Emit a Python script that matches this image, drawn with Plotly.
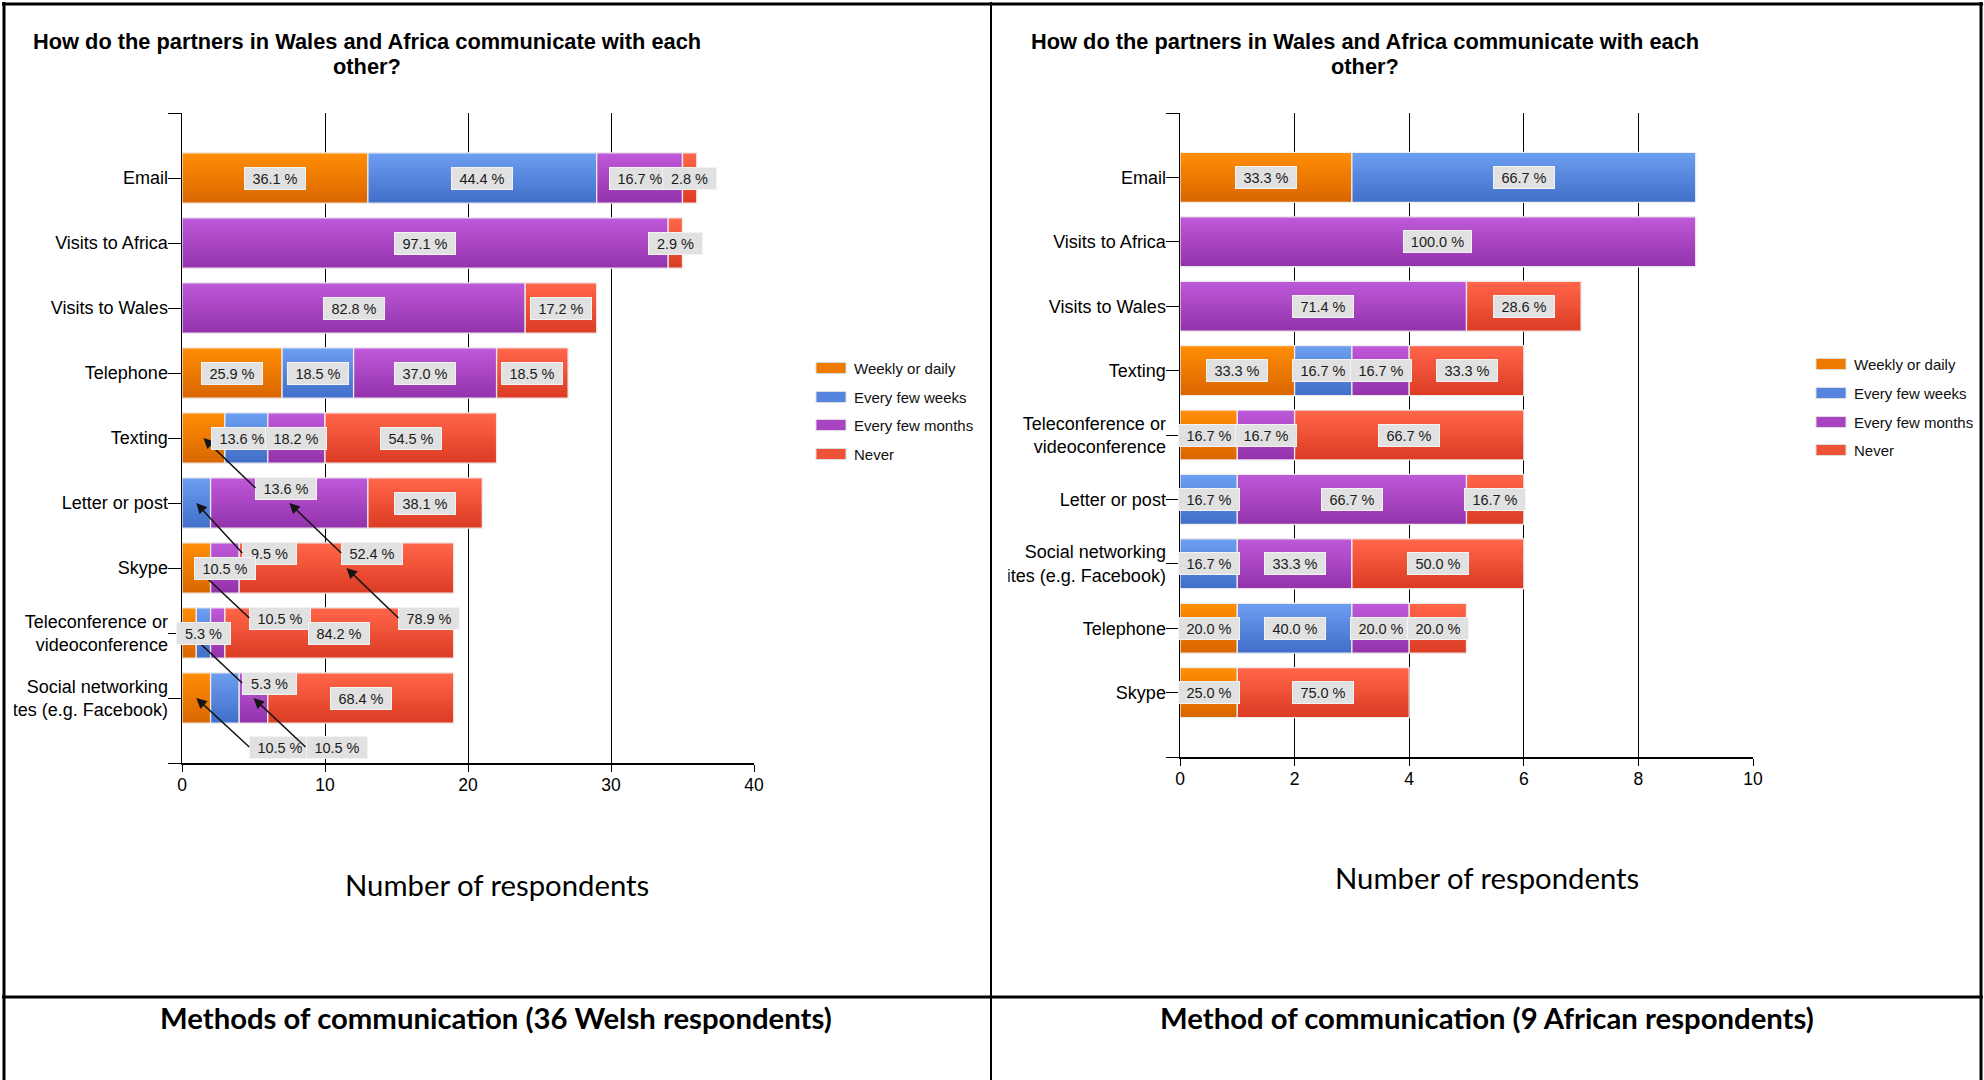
import plotly.graph_objects as go

# ---------------------------------------------------------------- data
SERIES = ["Weekly or daily", "Every few weeks", "Every few months", "Never"]

WALES_CATEGORIES = [
    "Email", "Visits to Africa", "Visits to Wales", "Telephone", "Texting",
    "Letter or post", "Skype", "Teleconference or<br>videoconference",
    "Social networking<br>sites (e.g. Facebook)",
]
WALES_WEEKLY = [13, 0, 0, 7, 3, 0, 2, 1, 2]
WALES_WEEKS = [16, 0, 0, 5, 3, 2, 0, 1, 2]
WALES_MONTHS = [6, 34, 24, 10, 4, 11, 2, 1, 2]
WALES_NEVER = [1, 1, 5, 5, 12, 8, 15, 16, 13]

AFRICA_CATEGORIES = [
    "Email", "Visits to Africa", "Visits to Wales", "Texting",
    "Teleconference or<br>videoconference", "Letter or post",
    "Social networking<br>sites (e.g. Facebook)", "Telephone", "Skype",
]
AFRICA_WEEKLY = [3, 0, 0, 2, 1, 0, 0, 1, 1]
AFRICA_WEEKS = [6, 0, 0, 1, 0, 1, 1, 2, 0]
AFRICA_MONTHS = [0, 9, 5, 1, 1, 4, 2, 1, 0]
AFRICA_NEVER = [0, 0, 2, 2, 4, 1, 3, 1, 3]

WALES_TICKS = [0, 10, 20, 30, 40]
AFRICA_TICKS = [0, 2, 4, 6, 8, 10]

CHART_TITLE_LINES = ["How do the partners in Wales and Africa communicate with each", "other?"]
AXIS_TITLE = "Number of respondents"
WALES_CAPTION = "Methods of communication (36 Welsh respondents)"
AFRICA_CAPTION = "Method of communication (9 African respondents)"

# ---------------------------------------------------------------- styling
W, H = 1984, 1080
FONT = "Arial, 'Liberation Sans', sans-serif"
DOC_FONT = "Lato, 'Open Sans', sans-serif"
TOP_COLORS = ["#FF8D05", "#6B9DF0", "#BD58D8", "#FF6549"]
BOTTOM_COLORS = ["#DA6700", "#4270CA", "#9533AD", "#DC3D24"]
SWATCH_COLORS = ["#EE7A02", "#5585DE", "#A843C2", "#EE5236"]
BAND_COUNT = 14
BAR_WIDTH = 0.775


def px(x):
    return x / W


def py(y):
    return 1 - y / H


def mix(c1, c2, t):
    a = [int(c1[i:i + 2], 16) for i in (1, 3, 5)]
    b = [int(c2[i:i + 2], 16) for i in (1, 3, 5)]
    return "rgb(%d,%d,%d)" % tuple(round(a[k] + (b[k] - a[k]) * t) for k in range(3))


def pct_text(v, total):
    return "%.1f %%" % (100.0 * v / total)


PANELS = [
    dict(cats=WALES_CATEGORIES,
         series=[WALES_WEEKLY, WALES_WEEKS, WALES_MONTHS, WALES_NEVER],
         ticks=WALES_TICKS, caption=WALES_CAPTION,
         box=(182, 754, 113, 763), title_x=367, legend_x=816,
         legend_y=[368, 397, 425, 454], axis_title=(497, 884), caption_pos=(496, 1017),
         mask=(0, 13.8), xa="x", ya="y"),
    dict(cats=AFRICA_CATEGORIES,
         series=[AFRICA_WEEKLY, AFRICA_WEEKS, AFRICA_MONTHS, AFRICA_NEVER],
         ticks=AFRICA_TICKS, caption=AFRICA_CAPTION,
         box=(1180, 1753, 113, 757), title_x=1365, legend_x=1816,
         legend_y=[364, 393, 422, 450], axis_title=(1487, 877), caption_pos=(1487, 1017),
         mask=(993, 1008.3), xa="x2", ya="y2"),
]

# value labels moved below their segment with a pointer: (row, series) -> pixel offset
WALES_CALLOUTS = {
    (4, 0): (52, 50), (5, 1): (46, 50), (5, 2): (52, 50), (6, 0): (53, 50),
    (6, 3): (52, 50), (7, 0): (53, 50), (8, 0): (53, 49), (8, 2): (52, 49),
}
WALES_HIDDEN = {(7, 2), (8, 1)}
WALES_SHIFT = {(4, 1): -4}
LABEL_RULES = [
    (WALES_CALLOUTS, WALES_HIDDEN, WALES_SHIFT),
    ({}, set(), {}),
]

fig = go.Figure()
annotations = []
shapes = []
layout_axes = {}

for p_i, panel in enumerate(PANELS):
    x0, x1, y0, y1 = panel["box"]
    xa, ya = panel["xa"], panel["ya"]
    xname = "xaxis" if xa == "x" else "xaxis2"
    yname = "yaxis" if ya == "y" else "yaxis2"
    ncat = len(panel["cats"])
    rows = list(range(ncat))
    totals = [sum(s[i] for s in panel["series"]) for i in rows]
    starts = [[0] * ncat for _ in SERIES]
    for i in rows:
        acc = 0
        for s in range(len(SERIES)):
            starts[s][i] = acc
            acc += panel["series"][s][i]

    # shaded bar segments, drawn as thin horizontal bands
    step = BAR_WIDTH / BAND_COUNT
    for s, values in enumerate(panel["series"]):
        idx = [i for i in rows if values[i] > 0]
        for k in range(BAND_COUNT):
            t = k / (BAND_COUNT - 1)
            fig.add_trace(go.Bar(
                orientation="h", y=idx, x=[values[i] for i in idx],
                base=[starts[s][i] for i in idx],
                width=step * (1.25 if k < BAND_COUNT - 1 else 1.0),
                offset=-BAR_WIDTH / 2 + k * step,
                marker=dict(color=mix(TOP_COLORS[s], BOTTOM_COLORS[s], t), line=dict(width=0)),
                xaxis=xa, yaxis=ya, showlegend=False, hoverinfo="skip",
            ))
        fig.add_trace(go.Bar(
            orientation="h", y=idx, x=[values[i] for i in idx],
            base=[starts[s][i] for i in idx], width=BAR_WIDTH, offset=-BAR_WIDTH / 2,
            marker=dict(color="rgba(0,0,0,0)", line=dict(color="rgba(238,238,238,0.95)", width=1.3)),
            xaxis=xa, yaxis=ya, showlegend=False, hoverinfo="skip", name=SERIES[s],
        ))

    # value labels
    callouts, hidden, shifts = LABEL_RULES[p_i]
    inline, pointed = [], []
    for s, values in enumerate(panel["series"]):
        for i in rows:
            v = values[i]
            if v <= 0 or (i, s) in hidden:
                continue
            text = pct_text(v, totals[i])
            common = dict(
                text=text, xref=xa, yref=ya, x=starts[s][i] + v / 2, y=i,
                font=dict(family=FONT, size=14.5, color="#1b1b1b"),
                bgcolor="#E1E1E1", bordercolor="#F3F3F3", borderwidth=1, borderpad=0,
                width=7 * len(text) + 18, height=21,
            )
            if (i, s) in callouts:
                dx, dy = callouts[(i, s)]
                pointed.append(dict(common, showarrow=True, ax=dx, ay=dy, xanchor="left",
                                    arrowhead=2, arrowsize=1.4, arrowwidth=1.5,
                                    arrowcolor="#151515", standoff=0))
            else:
                inline.append(dict(common, showarrow=False, xshift=shifts.get((i, s), 0)))
    annotations.extend(pointed + inline)

    layout_axes[xname] = dict(
        domain=[px(x0), px(x1)], range=[0, panel["ticks"][-1]], tickvals=panel["ticks"],
        showgrid=True, gridcolor="#000000", gridwidth=1, zeroline=False,
        showline=True, linecolor="#000000", linewidth=1.5, ticks="outside", ticklen=7,
        tickcolor="#000000", tickwidth=1, tickfont=dict(family=FONT, size=17.5, color="#000"),
        ticklabelstandoff=-2, anchor=ya, automargin=False, fixedrange=True,
    )
    layout_axes[yname] = dict(
        domain=[py(y1), py(y0)], range=[ncat, -1],
        tickvals=[-1] + rows + [ncat], ticktext=[""] + panel["cats"] + [""],
        showgrid=False, zeroline=False, showline=True, linecolor="#000000", linewidth=1.5,
        ticks="outside", ticklen=13, tickcolor="#000000", tickwidth=1,
        tickfont=dict(family=FONT, size=18, color="#000"),
        ticklabelstandoff=-4, anchor=xa, automargin=False, fixedrange=True,
    )

    # chart heading, one annotation per line
    for line_text, line_y in zip(CHART_TITLE_LINES, (42, 67)):
        annotations.append(dict(
            text="<b>%s</b>" % line_text, xref="paper", yref="paper",
            x=px(panel["title_x"]), y=py(line_y), xanchor="center", yanchor="middle",
            showarrow=False, font=dict(family=FONT, size=21.8, color="#000"),
        ))

    # legend
    for s, name in enumerate(SERIES):
        ly = panel["legend_y"][s]
        lx = panel["legend_x"]
        shapes.append(dict(type="rect", xref="paper", yref="paper",
                           x0=px(lx), x1=px(lx + 30), y0=py(ly + 5.5), y1=py(ly - 5.5),
                           fillcolor=SWATCH_COLORS[s], line=dict(color="#DDDDDD", width=1)))
        annotations.append(dict(
            text=name, xref="paper", yref="paper", x=px(lx + 36), y=py(ly),
            xanchor="left", yanchor="middle", showarrow=False,
            font=dict(family=FONT, size=15, color="#101010"),
        ))

    # axis title and caption
    ax_x, ax_y = panel["axis_title"]
    annotations.append(dict(
        text=AXIS_TITLE, xref="paper", yref="paper", x=px(ax_x), y=py(ax_y),
        xanchor="center", yanchor="middle", showarrow=False,
        font=dict(family=DOC_FONT, size=29.3, color="#000"),
    ))
    cx, cy = panel["caption_pos"]
    annotations.append(dict(
        text="<b>%s</b>" % panel["caption"], xref="paper", yref="paper", x=px(cx), y=py(cy),
        xanchor="center", yanchor="middle", showarrow=False,
        font=dict(family=DOC_FONT, size=29.3, color="#000"),
    ))

    # the left edge of the chart picture trims the long social-networking label
    slot = (y1 - y0) / (ncat + 1)
    social_row = next(i for i, c in enumerate(panel["cats"]) if c.startswith("Social"))
    row_y = y0 + (social_row + 1) * slot
    m0, m1 = panel["mask"]
    shapes.append(dict(type="rect", xref="paper", yref="paper", layer="above",
                       x0=px(m0), x1=px(m1), y0=py(row_y + 24), y1=py(row_y - 2),
                       fillcolor="#FFFFFF", line=dict(width=0)))

# table rules
for (a, b, c, d, w) in [
    (2, 4, 1983, 4, 3),        # top
    (4, 2, 4, 1080, 3),        # left
    (991, 2, 991, 1080, 2),    # middle
    (1981, 2, 1981, 1080, 3),  # right
    (2, 997, 1983, 997, 3),    # row divider
]:
    shapes.append(dict(type="line", xref="paper", yref="paper", layer="above",
                       x0=px(a), y0=py(b), x1=px(c), y1=py(d),
                       line=dict(color="#000000", width=w)))

fig.update_layout(
    width=W, height=H, autosize=False,
    margin=dict(l=0, r=0, t=0, b=0, pad=0),
    paper_bgcolor="#FFFFFF", plot_bgcolor="#FFFFFF",
    barmode="overlay", showlegend=False,
    annotations=annotations, shapes=shapes,
    **layout_axes,
)

fig.write_html("out.html", config=dict(displayModeBar=False, staticPlot=True))
